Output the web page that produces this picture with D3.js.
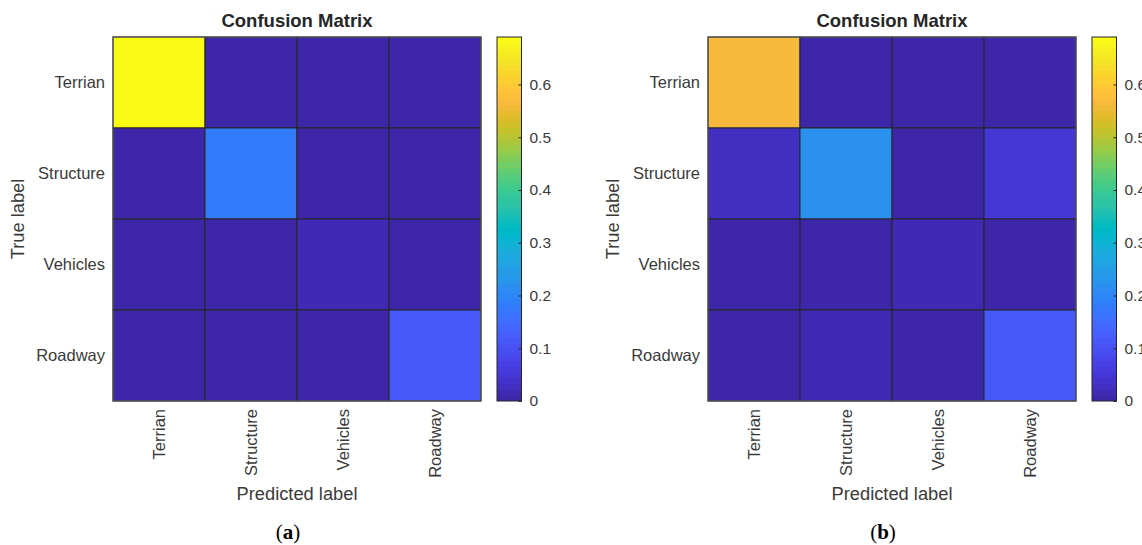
<!DOCTYPE html>
<html>
<head>
<meta charset="utf-8">
<script src="https://cdn.jsdelivr.net/npm/d3@7"></script>
<style>
  html, body { margin: 0; padding: 0; background: #fff; }
  svg { display: block; }
  text { font-family: "Liberation Sans", Arial, Helvetica, sans-serif; }
</style>
</head>
<body>
<svg id="chart" width="1142" height="545"></svg>
<script>
// ---------------- data ----------------
const categories = ["Terrian", "Structure", "Vehicles", "Roadway"];
// rows = true label, columns = predicted label
const matrixA = [
  [0.690, 0.003, 0.003, 0.003],
  [0.003, 0.178, 0.003, 0.003],
  [0.003, 0.003, 0.016, 0.003],
  [0.003, 0.003, 0.003, 0.112]
];
const matrixB = [
  [0.566, 0.003, 0.003, 0.004],
  [0.025, 0.221, 0.003, 0.048],
  [0.003, 0.004, 0.015, 0.002],
  [0.004, 0.013, 0.005, 0.113]
];
const colorTicks = [0, 0.1, 0.2, 0.3, 0.4, 0.5, 0.6];
const colorMin = 0;
const colorMax = 0.69;
const captions = ["a", "b"];
const titleText = "Confusion Matrix";
const xLabelText = "Predicted label";
const yLabelText = "True label";

// MATLAB parula colormap (64 entries)
const PARULA = [
[0.2422,0.1504,0.6603],[0.2504,0.1650,0.7076],[0.2578,0.1818,0.7511],[0.2647,0.1978,0.7952],
[0.2706,0.2147,0.8364],[0.2751,0.2342,0.8710],[0.2783,0.2559,0.8991],[0.2803,0.2782,0.9221],
[0.2813,0.3006,0.9414],[0.2810,0.3228,0.9579],[0.2795,0.3447,0.9717],[0.2760,0.3667,0.9829],
[0.2699,0.3892,0.9906],[0.2602,0.4123,0.9952],[0.2440,0.4358,0.9988],[0.2206,0.4603,0.9973],
[0.1963,0.4847,0.9892],[0.1834,0.5074,0.9798],[0.1786,0.5289,0.9682],[0.1764,0.5499,0.9520],
[0.1687,0.5703,0.9359],[0.1540,0.5902,0.9218],[0.1460,0.6091,0.9079],[0.1380,0.6276,0.8973],
[0.1248,0.6459,0.8883],[0.1113,0.6635,0.8763],[0.0952,0.6798,0.8598],[0.0689,0.6948,0.8394],
[0.0297,0.7082,0.8163],[0.0036,0.7203,0.7917],[0.0067,0.7312,0.7660],[0.0433,0.7411,0.7394],
[0.0964,0.7500,0.7120],[0.1408,0.7584,0.6842],[0.1717,0.7670,0.6554],[0.1938,0.7758,0.6251],
[0.2161,0.7843,0.5923],[0.2470,0.7918,0.5567],[0.2906,0.7973,0.5188],[0.3406,0.8008,0.4789],
[0.3909,0.8029,0.4354],[0.4456,0.8024,0.3909],[0.5044,0.7993,0.3480],[0.5616,0.7942,0.3045],
[0.6174,0.7876,0.2612],[0.6720,0.7793,0.2227],[0.7242,0.7698,0.1910],[0.7738,0.7598,0.1646],
[0.8203,0.7498,0.1535],[0.8634,0.7406,0.1596],[0.9035,0.7330,0.1774],[0.9393,0.7288,0.2100],
[0.9728,0.7298,0.2394],[0.9956,0.7434,0.2371],[0.9970,0.7659,0.2199],[0.9952,0.7893,0.2028],
[0.9892,0.8136,0.1885],[0.9786,0.8386,0.1766],[0.9676,0.8639,0.1643],[0.9610,0.8890,0.1537],
[0.9597,0.9135,0.1423],[0.9628,0.9373,0.1265],[0.9691,0.9606,0.1064],[0.9769,0.9839,0.0805]
].map(c => d3.rgb(c[0]*255, c[1]*255, c[2]*255).formatHex());

// ---------------- layout ----------------
const svg = d3.select("#chart");
const textColor = "#3a3a3a";
const panelOffsets = [0, 595];
const matLeft = 113, matRight = 481, matTop = 37, matBottom = 401;
const cbLeft = 497, cbWidth = 24.5;

const color = d3.scaleQuantize().domain([colorMin, colorMax]).range(PARULA);

function drawPanel(matrix, dx, caption, idx) {
  const g = svg.append("g").attr("transform", `translate(${dx},0)`);

  const x = d3.scaleBand().domain(categories).range([matLeft, matRight]);
  const y = d3.scaleBand().domain(categories).range([matTop, matBottom]);

  const cells = [];
  matrix.forEach((row, i) => row.forEach((v, j) => cells.push({ t: categories[i], p: categories[j], v })));

  g.selectAll("rect.cell").data(cells).enter().append("rect")
    .attr("class", "cell")
    .attr("x", d => x(d.p))
    .attr("y", d => y(d.t))
    .attr("width", x.bandwidth())
    .attr("height", y.bandwidth())
    .attr("fill", d => color(Math.min(d.v, colorMax - 1e-9)))
    .attr("stroke", "#262626")
    .attr("stroke-width", 1);

  // outer box
  g.append("rect")
    .attr("x", matLeft).attr("y", matTop)
    .attr("width", matRight - matLeft).attr("height", matBottom - matTop)
    .attr("fill", "none").attr("stroke", "#5a5a5a").attr("stroke-width", 1.2);

  // y tick labels
  g.selectAll("text.ytick").data(categories).enter().append("text")
    .attr("class", "ytick")
    .attr("x", matLeft - 8)
    .attr("y", d => y(d) + y.bandwidth() / 2)
    .attr("dy", "0.35em")
    .attr("text-anchor", "end")
    .attr("font-size", 16.5)
    .attr("fill", textColor)
    .text(d => d);

  // x tick labels (rotated)
  g.selectAll("text.xtick").data(categories).enter().append("text")
    .attr("class", "xtick")
    .attr("transform", d => `translate(${x(d) + x.bandwidth() / 2},${matBottom + 8}) rotate(-90)`)
    .attr("dy", "0.35em")
    .attr("text-anchor", "end")
    .attr("font-size", 16.5)
    .attr("fill", textColor)
    .text(d => d);

  // title
  g.append("text")
    .attr("x", (matLeft + matRight) / 2)
    .attr("y", 27)
    .attr("text-anchor", "middle")
    .attr("font-size", 18.5)
    .attr("font-weight", "bold")
    .attr("fill", "#262626")
    .text(titleText);

  // axis labels
  g.append("text")
    .attr("x", (matLeft + matRight) / 2)
    .attr("y", 500)
    .attr("text-anchor", "middle")
    .attr("font-size", 18.3)
    .attr("fill", textColor)
    .text(xLabelText);

  g.append("text")
    .attr("transform", `translate(18,${(matTop + matBottom) / 2}) rotate(-90)`)
    .attr("dy", "0.35em")
    .attr("text-anchor", "middle")
    .attr("font-size", 18.3)
    .attr("fill", textColor)
    .text(yLabelText);

  // colorbar (gradient with hard stops = 64 discrete colours)
  const cy = d3.scaleLinear().domain([colorMin, colorMax]).range([matBottom, matTop]);
  const n = PARULA.length;
  const gradId = "parula" + idx;
  const grad = svg.append("defs").append("linearGradient")
    .attr("id", gradId).attr("x1", 0).attr("y1", 1).attr("x2", 0).attr("y2", 0);
  PARULA.forEach((c, i) => {
    grad.append("stop").attr("offset", i / n).attr("stop-color", c);
    grad.append("stop").attr("offset", (i + 1) / n).attr("stop-color", c);
  });
  g.append("rect")
    .attr("x", cbLeft).attr("y", cy(colorMax))
    .attr("width", cbWidth).attr("height", cy(colorMin) - cy(colorMax))
    .attr("fill", `url(#${gradId})`)
    .attr("stroke", "#262626").attr("stroke-width", 1);

  const cbAxis = d3.axisRight(cy).tickValues(colorTicks).tickSize(-3).tickPadding(8)
    .tickFormat(d3.format("~g"));
  const ag = g.append("g").attr("transform", `translate(${cbLeft + cbWidth},0)`).call(cbAxis);
  ag.select(".domain").remove();
  ag.selectAll(".tick line").attr("stroke", "#262626");
  ag.selectAll(".tick text")
    .attr("font-size", 15.5)
    .attr("fill", textColor)
    .attr("font-family", '"Liberation Sans", Arial, sans-serif');

  // caption
  const cap = g.append("text")
    .attr("x", 288)
    .attr("y", 539)
    .attr("text-anchor", "middle")
    .attr("font-size", 21)
    .attr("fill", "#000")
    .style("font-family", '"Liberation Serif", "DejaVu Serif", serif');
  cap.append("tspan").text("(");
  cap.append("tspan").attr("font-weight", "bold").text(caption);
  cap.append("tspan").text(")");
}

drawPanel(matrixA, panelOffsets[0], captions[0], 0);
drawPanel(matrixB, panelOffsets[1], captions[1], 1);
</script>
</body>
</html>
